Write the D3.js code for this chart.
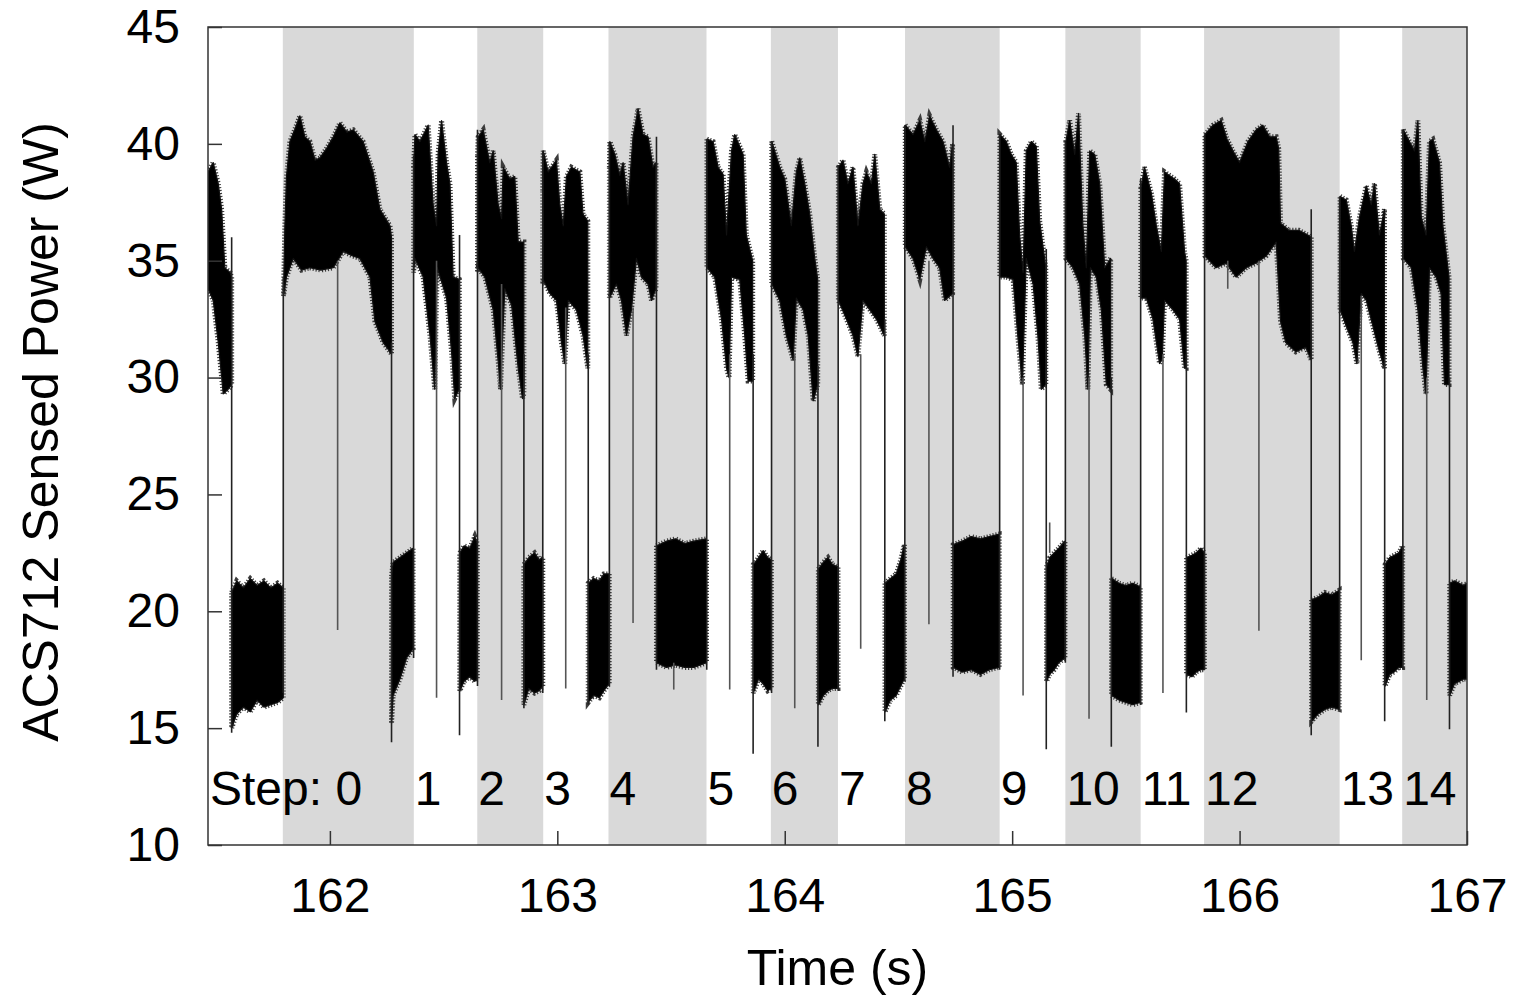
<!DOCTYPE html>
<html>
<head>
<meta charset="utf-8">
<script src="https://cdn.jsdelivr.net/npm/d3@7"></script>
<style>
  body { margin: 0; background: #fff; }
  text { font-family: "Liberation Sans", Arial, Helvetica, sans-serif; fill: #000; }
</style>
</head>
<body>
<div id="powerChart" style="width:1517px;height:995px;"></div>
<script>
// ---- data ----
// shaded steps (even steps), in seconds
const shadedSteps = [
  [161.793, 162.369], [162.648, 162.938], [163.225, 163.656], [163.939, 164.234],
  [164.529, 164.945], [165.234, 165.565], [165.844, 166.440], [166.715, 167.0]
];
// step start times for labels 1..14
const stepStarts = [162.369, 162.648, 162.938, 163.225, 163.656, 163.939, 164.234,
  164.529, 164.945, 165.234, 165.565, 165.844, 166.440, 166.715];
const stepLabels = ['1', '2', '3', '4', '5', '6', '7', '8', '9', '10', '11', '12', '13', '14'];

const xTicks = [162, 163, 164, 165, 166, 167];
const yTicks = [10, 15, 20, 25, 30, 35, 40, 45];

// upper envelope of each burst of samples [t, W]
const blockTops = [
  [[161.464,38.8],[161.487,39.2],[161.509,38.3],[161.524,37.2],[161.538,34.7],[161.561,34.5],[161.568,34.3]],
  [[161.568,20.8],[161.59,21.3],[161.62,21.0],[161.65,21.4],[161.68,21.1],[161.71,21.3],[161.74,21.0],[161.77,21.2],[161.795,21.0]],
  [[161.796,33.5],[161.802,36.5],[161.809,38.6],[161.824,40.1],[161.845,40.6],[161.868,41.2],[161.890,40.3],[161.912,40.1],[161.935,39.3],[161.956,39.4],[161.985,39.8],[162.015,40.3],[162.044,40.9],[162.075,40.5],[162.103,40.6],[162.146,40.1],[162.170,39.4],[162.190,38.8],[162.220,37.2],[162.245,36.8],[162.264,36.5],[162.271,36.0]],
  [[162.271,21.5],[162.278,22.1],[162.308,22.3],[162.337,22.5],[162.366,22.7]],
  [[162.368,39.0],[162.374,40.4],[162.396,40.1],[162.432,40.8],[162.454,37.4],[162.469,36.5],[162.476,39.6],[162.491,41.0],[162.513,39.2],[162.528,38.3],[162.542,34.3],[162.569,34.2]],
  [[162.571,22.5],[162.590,22.8],[162.615,22.7],[162.637,23.2],[162.648,22.9]],
  [[162.649,39.5],[162.652,40.3],[162.674,40.6],[162.703,39.2],[162.718,39.7],[162.740,37.4],[162.755,36.8],[162.762,39.0],[162.791,38.5],[162.813,38.6],[162.828,35.8],[162.853,35.8]],
  [[162.853,22.0],[162.875,22.3],[162.900,22.5],[162.920,22.2],[162.936,22.3]],
  [[162.936,38.0],[162.938,39.7],[162.960,38.8],[162.996,39.3],[163.011,37.4],[163.026,36.5],[163.040,38.6],[163.062,39.0],[163.099,38.8],[163.113,37.0],[163.134,36.7]],
  [[163.136,21.2],[163.160,21.4],[163.185,21.3],[163.205,21.6],[163.228,21.6]],
  [[163.229,39.0],[163.231,40.1],[163.253,39.55],[163.275,38.65],[163.289,39.2],[163.311,37.4],[163.333,40.3],[163.355,41.5],[163.377,40.4],[163.399,40.3],[163.421,39.0],[163.434,39.2]],
  [[163.436,22.8],[163.480,23.0],[163.520,23.1],[163.560,22.9],[163.600,23.0],[163.656,23.1]],
  [[163.658,40.2],[163.685,40.1],[163.707,39.0],[163.729,38.7],[163.744,36.1],[163.766,39.7],[163.780,40.4],[163.817,39.55],[163.831,36.1],[163.859,35.0]],
  [[163.862,22.0],[163.885,22.3],[163.905,22.6],[163.925,22.3],[163.941,22.2]],
  [[163.943,40.1],[163.978,39.0],[164.000,38.5],[164.029,36.5],[164.051,38.8],[164.066,39.4],[164.088,38.3],[164.110,37.0],[164.132,35.1],[164.145,34.2]],
  [[164.148,21.8],[164.170,22.1],[164.190,22.3],[164.210,22.0],[164.234,21.9]],
  [[164.236,39.0],[164.256,39.3],[164.278,38.3],[164.300,39.0],[164.322,36.5],[164.344,38.3],[164.359,38.8],[164.381,38.3],[164.396,39.55],[164.418,37.2],[164.438,37.0]],
  [[164.441,21.2],[164.465,21.4],[164.490,21.6],[164.510,22.2],[164.526,22.85]],
  [[164.530,40.8],[164.564,40.4],[164.594,41.0],[164.616,40.1],[164.637,41.2],[164.667,40.6],[164.696,40.1],[164.725,39.0],[164.738,40.0]],
  [[164.741,22.85],[164.780,23.0],[164.820,23.2],[164.860,23.1],[164.900,23.2],[164.943,23.3]],
  [[164.946,40.4],[164.974,40.1],[164.996,39.55],[165.018,39.2],[165.033,36.1],[165.048,34.5],[165.062,39.7],[165.084,40.1],[165.106,39.9],[165.121,36.7],[165.148,34.7]],
  [[165.151,21.9],[165.165,22.3],[165.185,22.5],[165.205,22.7],[165.232,23.0]],
  [[165.236,40.1],[165.253,41.0],[165.275,39.55],[165.292,41.3],[165.311,36.5],[165.326,34.7],[165.341,39.7],[165.363,39.55],[165.385,38.3],[165.407,34.7],[165.433,35.1]],
  [[165.437,21.4],[165.470,21.2],[165.500,21.1],[165.530,21.2],[165.563,21.05]],
  [[165.566,38.1],[165.582,39.0],[165.612,37.9],[165.634,36.5],[165.656,35.4],[165.670,38.8],[165.692,38.65],[165.714,38.5],[165.736,38.3],[165.758,35.4],[165.765,35.0]],
  [[165.767,22.3],[165.790,22.4],[165.810,22.5],[165.830,22.7],[165.845,22.5]],
  [[165.848,40.4],[165.883,40.8],[165.919,41.0],[165.945,40.2],[165.971,39.7],[166.000,39.2],[166.037,40.1],[166.073,40.6],[166.102,40.8],[166.132,40.3],[166.161,40.3],[166.172,39.8],[166.180,36.6],[166.217,36.3],[166.261,36.3],[166.300,36.1],[166.315,36.0]],
  [[166.317,20.5],[166.345,20.6],[166.375,20.8],[166.405,20.7],[166.438,20.9]],
  [[166.442,37.75],[166.469,37.6],[166.491,36.5],[166.505,35.4],[166.527,36.85],[166.557,38.2],[166.579,37.4],[166.593,38.3],[166.615,36.1],[166.637,37.2]],
  [[166.640,22.0],[166.660,22.3],[166.680,22.4],[166.700,22.5],[166.717,22.8]],
  [[166.720,40.6],[166.747,40.1],[166.769,39.7],[166.784,41.0],[166.799,36.85],[166.820,36.1],[166.835,40.1],[166.850,40.2],[166.879,39.2],[166.894,36.5],[166.921,34.3]],
  [[166.924,21.2],[166.945,21.3],[166.965,21.2],[166.985,21.1],[167.0,21.2]]
];

// lower envelope of each burst [t, W]
const blockBottoms = [
  [[161.464,33.8],[161.487,33.3],[161.509,31.5],[161.531,29.3],[161.553,29.5],[161.568,29.7]],
  [[161.568,15.0],[161.59,15.6],[161.62,15.9],[161.65,15.7],[161.68,16.2],[161.71,15.9],[161.74,16.0],[161.77,16.1],[161.795,16.3]],
  [[161.796,33.5],[161.809,34.3],[161.839,35.1],[161.875,34.6],[161.912,34.7],[161.960,34.6],[162.015,34.7],[162.059,35.4],[162.100,35.2],[162.132,35.1],[162.176,34.3],[162.198,32.4],[162.234,31.5],[162.264,31.1],[162.271,31.0]],
  [[162.271,15.2],[162.278,16.4],[162.308,17.1],[162.337,18.0],[162.366,18.4]],
  [[162.368,34.5],[162.374,35.1],[162.410,34.3],[162.440,31.8],[162.461,29.5],[162.472,34.7],[162.513,33.4],[162.535,31.1],[162.549,29.1],[162.569,29.5]],
  [[162.571,16.6],[162.590,17.0],[162.615,17.2],[162.637,17.0],[162.648,17.1]],
  [[162.649,34.5],[162.652,34.7],[162.681,34.3],[162.718,32.9],[162.740,30.7],[162.750,29.5],[162.769,33.8],[162.799,33.1],[162.828,30.4],[162.847,29.1],[162.853,29.3]],
  [[162.853,16.0],[162.875,16.7],[162.900,16.5],[162.920,16.6],[162.936,16.8]],
  [[162.936,34.0],[162.938,34.2],[162.967,33.6],[162.996,33.3],[163.018,31.5],[163.033,30.6],[163.048,33.3],[163.084,32.9],[163.113,31.8],[163.134,30.4]],
  [[163.136,16.1],[163.160,16.4],[163.185,16.3],[163.205,16.6],[163.228,16.9]],
  [[163.229,33.4],[163.260,34.0],[163.282,33.3],[163.304,31.8],[163.326,32.9],[163.348,35.1],[163.370,34.3],[163.399,34.0],[163.414,33.3],[163.434,33.8]],
  [[163.436,17.8],[163.480,17.6],[163.520,17.7],[163.560,17.6],[163.600,17.6],[163.656,17.8]],
  [[163.658,34.7],[163.692,34.3],[163.722,32.5],[163.744,30.4],[163.755,30.0],[163.766,34.3],[163.802,34.2],[163.824,31.8],[163.839,29.85],[163.859,29.85]],
  [[163.862,16.5],[163.885,17.1],[163.905,16.9],[163.925,16.6],[163.941,16.7]],
  [[163.943,34.0],[163.978,33.3],[164.007,31.8],[164.037,30.75],[164.051,33.4],[164.081,32.9],[164.103,31.8],[164.125,29.0],[164.145,29.7]],
  [[164.148,16.0],[164.170,16.4],[164.190,16.6],[164.210,16.7],[164.234,16.7]],
  [[164.236,33.3],[164.271,32.5],[164.300,31.8],[164.322,30.9],[164.344,33.3],[164.374,32.9],[164.403,32.5],[164.438,31.8]],
  [[164.441,15.7],[164.465,16.2],[164.490,16.4],[164.510,16.8],[164.526,17.1]],
  [[164.530,35.6],[164.564,35.1],[164.594,34.2],[164.623,35.6],[164.652,35.1],[164.681,34.7],[164.703,33.3],[164.738,33.6]],
  [[164.741,17.6],[164.780,17.4],[164.820,17.5],[164.860,17.3],[164.900,17.5],[164.943,17.6]],
  [[164.946,34.3],[164.974,34.3],[165.004,34.2],[165.026,31.65],[165.045,29.7],[165.062,35.1],[165.092,34.0],[165.113,31.8],[165.128,29.5],[165.148,29.7]],
  [[165.151,17.0],[165.165,17.3],[165.185,17.5],[165.205,17.8],[165.232,18.0]],
  [[165.236,35.1],[165.267,34.7],[165.297,34.0],[165.319,31.8],[165.333,29.5],[165.344,34.7],[165.370,34.3],[165.392,32.9],[165.414,29.7],[165.433,29.5]],
  [[165.437,16.4],[165.470,16.2],[165.500,16.1],[165.530,16.0],[165.563,16.1]],
  [[165.566,33.4],[165.590,33.4],[165.619,32.5],[165.648,30.6],[165.660,30.8],[165.670,33.3],[165.707,32.9],[165.736,32.5],[165.758,30.4],[165.765,30.4]],
  [[165.767,17.3],[165.790,17.2],[165.810,17.4],[165.830,17.5],[165.845,17.5]],
  [[165.848,35.2],[165.897,34.7],[165.941,34.9],[165.985,34.3],[166.029,34.7],[166.073,34.9],[166.117,35.2],[166.161,35.8],[166.180,32.4],[166.203,31.5],[166.247,31.1],[166.291,31.3],[166.315,30.75]],
  [[166.317,15.3],[166.345,15.6],[166.375,15.8],[166.405,15.9],[166.438,15.8]],
  [[166.442,32.9],[166.469,32.2],[166.498,31.5],[166.516,30.6],[166.535,33.6],[166.557,33.3],[166.586,32.2],[166.615,31.1],[166.637,30.4]],
  [[166.640,16.8],[166.660,17.3],[166.680,17.4],[166.700,17.6],[166.717,17.6]],
  [[166.720,35.1],[166.755,34.7],[166.784,32.9],[166.806,30.4],[166.820,29.3],[166.835,34.7],[166.864,34.3],[166.886,33.6],[166.901,29.7],[166.921,29.7]],
  [[166.924,16.4],[166.945,16.9],[166.965,17.0],[166.985,17.1],[167.0,17.1]]
];

// switching edges between bursts [t, low W, high W]
const transitions = [
  [161.568,14.8,36.0],[161.795,16.5,34.3],[162.271,14.4,31.5],[162.368,18.0,39.5],
  [162.570,14.7,36.1],[162.649,16.8,40.6],[162.853,15.85,31.0],[162.936,16.5,39.7],
  [163.136,16.0,31.0],[163.229,16.8,40.0],[163.436,17.5,40.3],[163.657,17.5,40.2],
  [163.861,13.9,31.0],[163.942,16.5,40.1],[164.146,14.2,30.5],[164.235,16.6,39.1],
  [164.440,15.3,32.5],[164.528,17.0,40.8],[164.740,17.2,40.8],[164.945,17.5,40.4],
  [165.150,14.1,35.5],[165.234,17.8,40.1],[165.436,14.2,30.0],[165.565,16.0,38.5],
  [165.766,15.67,31.0],[165.846,17.5,40.4],[166.315,14.7,37.2],[166.440,15.8,37.75],
  [166.638,15.3,31.0],[166.718,17.5,40.6],[166.923,14.95,30.0]
];

// single-sample dips inside bursts [t, low W, high W]
const dips = [
  [162.034,19.2,35.0],[162.469,16.3,35.0],[162.755,16.2,34.0],[163.037,16.7,33.0],
  [163.333,19.5,33.0],[163.512,16.65,17.8],[163.758,16.65,31.0],[164.044,15.85,31.0],
  [164.334,18.4,31.0],[164.634,19.44,35.0],[165.048,16.4,30.0],[165.165,22.5,23.8],
  [165.338,15.4,30.0],[165.663,16.5,31.0],[165.948,33.8,35.0],[166.085,19.17,35.0],
  [166.535,17.9,33.5],[166.823,16.2,30.0]
];

// chart static params
const initial_width = 1517;
const initial_height = 995;
const xLabel = 'Time (s)';
const yLabel = 'ACS712 Sensed Power (W)';
const font_size = 48;
const title_size = 50;
const tick_len = 14;

// set the dimensions and margins of the graph
const margin = {top: 27, right: 50, bottom: 150, left: 208},
    width = initial_width - margin.left - margin.right,
    height = initial_height - margin.top - margin.bottom;

// set scales
const xScale = d3.scaleLinear()
  .domain([161.464, 167])
  .range([0, width]);

const yScale = d3.scaleLinear()
  .domain([10, 45])
  .range([height, 0]);

// append the svg object
const svg = d3.select('#powerChart')
    .append('svg')
      .attr('width', initial_width)
      .attr('height', initial_height)
    .append('g')
      .attr('transform', 'translate(' + margin.left + ',' + margin.top + ')');

svg.append('clipPath').attr('id', 'plotClip')
  .append('rect').attr('width', width).attr('height', height);

// shaded steps
svg.append('g')
  .selectAll('rect')
  .data(shadedSteps)
  .join('rect')
    .attr('x', d => xScale(d[0]))
    .attr('width', d => xScale(d[1]) - xScale(d[0]))
    .attr('y', 0)
    .attr('height', height)
    .attr('fill', '#d9d9d9');

const plot = svg.append('g').attr('clip-path', 'url(#plotClip)');

// bursts drawn as closed envelopes
const envLine = d3.line()
  .x(d => xScale(d[0]))
  .y(d => yScale(d[1]));

const envelopes = blockTops.map((top, i) => top.concat(blockBottoms[i].slice().reverse()));

// hairy fringe of the noisy samples (dashed thick outline)
plot.append('g')
  .selectAll('path')
  .data(envelopes)
  .join('path')
    .attr('d', d => envLine(d) + 'Z')
    .attr('fill', 'none')
    .attr('stroke', '#3c3c3c')
    .attr('stroke-width', 5)
    .attr('stroke-dasharray', '1.2,1.8');

plot.append('g')
  .selectAll('path')
  .data(envelopes)
  .join('path')
    .attr('d', d => envLine(d) + 'Z')
    .attr('fill', '#000')
    .attr('stroke', '#111')
    .attr('stroke-width', 1.2)
    .attr('stroke-linejoin', 'round');

// edges and dips
plot.append('g')
  .selectAll('line')
  .data(transitions)
  .join('line')
    .attr('x1', d => xScale(d[0]))
    .attr('x2', d => xScale(d[0]))
    .attr('y1', d => yScale(d[1]))
    .attr('y2', d => yScale(d[2]))
    .attr('stroke', '#222')
    .attr('stroke-width', 1.6);

plot.append('g')
  .selectAll('line')
  .data(dips)
  .join('line')
    .attr('x1', d => xScale(d[0]))
    .attr('x2', d => xScale(d[0]))
    .attr('y1', d => yScale(d[1]))
    .attr('y2', d => yScale(d[2]))
    .attr('stroke', '#555')
    .attr('stroke-width', 1.6);

// frame
svg.append('rect')
  .attr('width', width)
  .attr('height', height)
  .attr('fill', 'none')
  .attr('stroke', '#333')
  .attr('stroke-width', 1.5);

// add X axis
const xAxisSvg = svg.append('g')
  .attr('transform', 'translate(0,' + height + ')')
  .call(d3.axisBottom(xScale).tickValues(xTicks).tickFormat(d3.format('d'))
    .tickSize(-tick_len).tickPadding(33));

// add Y axis
const yAxisSvg = svg.append('g')
  .call(d3.axisLeft(yScale).tickValues(yTicks).tickSize(-tick_len).tickPadding(28));

[xAxisSvg, yAxisSvg].forEach(a => {
  a.select('.domain').remove();
  a.selectAll('.tick line').attr('stroke', '#333').attr('stroke-width', 1.5);
  a.selectAll('.tick text')
    .attr('font-size', font_size)
    .attr('font-family', '"Liberation Sans", Arial, sans-serif')
    .attr('fill', '#000');
});

// step labels
svg.append('text')
  .attr('x', 2)
  .attr('y', 805 - margin.top)
  .attr('font-size', font_size)
  .text('Step: 0');

svg.append('g')
  .selectAll('text')
  .data(stepStarts)
  .join('text')
    .attr('x', d => xScale(d) + 1)
    .attr('y', 805 - margin.top)
    .attr('font-size', font_size)
    .text((d, i) => stepLabels[i]);

// add label left
svg.append('text')
  .attr('text-anchor', 'middle')
  .attr('font-size', title_size)
  .attr('transform', `translate(${58 - margin.left}, ${432 - margin.top}) rotate(-90)`)
  .text(yLabel);

// add label bottom
svg.append('text')
  .attr('text-anchor', 'middle')
  .attr('font-size', title_size)
  .attr('transform', `translate(${width / 2}, ${985 - margin.top})`)
  .text(xLabel);
</script>
</body>
</html>
